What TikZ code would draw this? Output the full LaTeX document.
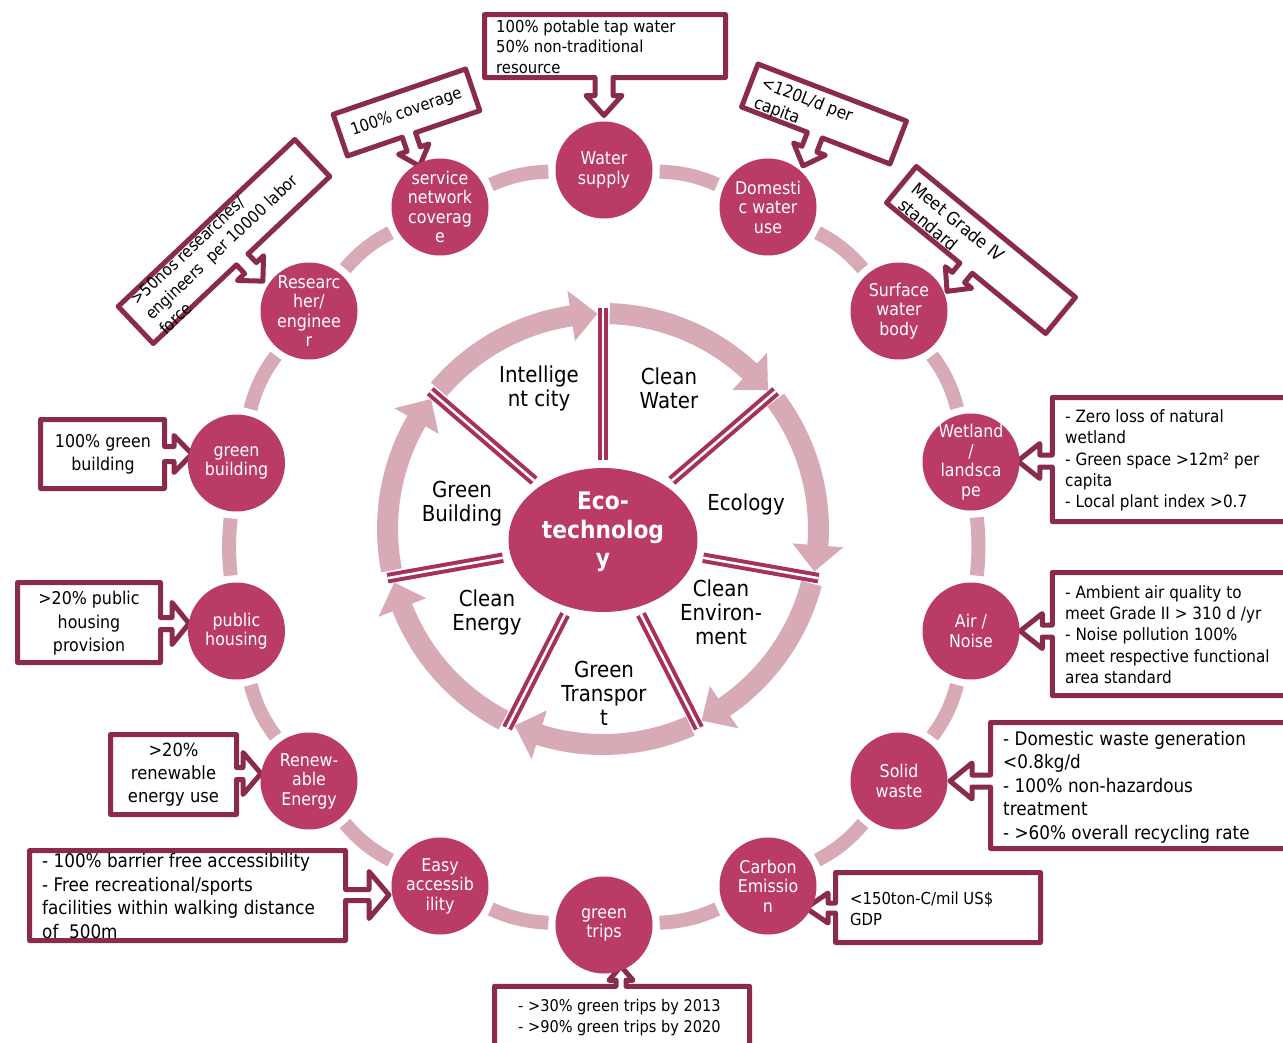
\documentclass[tikz,border=0pt]{standalone}
\usepackage{fontspec}
\setmainfont[FakeStretch=0.9,Scale=1.1]{DejaVu Sans}
\usetikzlibrary{shapes.geometric,calc}
\definecolor{ringc}{RGB}{185,59,102}
\definecolor{callc}{RGB}{138,42,78}
\definecolor{pinkc}{RGB}{216,170,182}
\definecolor{spokec}{RGB}{168,48,92}
\newcommand{\myfs}[2]{\fontsize{#1}{#2}\selectfont}
\def\csw{6}\def\chw{18}
\newcommand{\drawcallout}[8]{%
\begin{scope}[shift={(#1,#2)},rotate=#3]
\draw[callbox] ({-(#4)/2},{(#5)/2}) -- ({(#4)/2},{(#5)/2}) -- ({(#4)/2},{-(#5)/2})
 -- ({#6+\csw},{-(#5)/2}) -- ({#6+\csw},{-(#5)/2-(#7)+(#8)}) -- ({#6+\chw},{-(#5)/2-(#7)+(#8)})
 -- ({#6},{-(#5)/2-(#7)}) -- ({#6-\chw},{-(#5)/2-(#7)+(#8)}) -- ({#6-\csw},{-(#5)/2-(#7)+(#8)})
 -- ({#6-\csw},{-(#5)/2}) -- ({-(#4)/2},{-(#5)/2}) -- cycle;
\end{scope}}
\begin{document}
\begin{tikzpicture}[x=1pt,y=1pt,
 ringnode/.style={circle, fill=ringc, minimum size=97pt, inner sep=0pt},
 ringtxt/.style={text=white, align=center, inner sep=0pt, font=\myfs{16}{19.5}},
 ringline/.style={draw=pinkc, line width=14pt, shorten <=7pt, shorten >=7pt},
 callbox/.style={draw=callc, fill=white, line width=5pt, line join=round},
 ctext/.style={text=black, inner sep=0pt},
 spoke/.style={draw=spokec, line width=4pt, double=white, double distance=2.5pt, shorten <=8pt},
 wheelarr/.style={fill=pinkc},
 inlbl/.style={text=black, align=center, inner sep=0pt, font=\myfs{20}{24}},
 ecotxt/.style={text=white, align=center, inner sep=0pt, font=\bfseries\myfs{22}{28.5}}
]
\useasboundingbox (0,0) rectangle (1283,-1042);
\clip (0,0) rectangle (1283,-1042);
\fill[white] (0,0) rectangle (1283,-1042);

% ---- inner wheel ----
\coordinate (C) at (603,-529);
\foreach \k in {0,...,6}{
  \pgfmathsetmacro\angS{90-51.4286*\k-1.8}
  \pgfmathsetmacro\angE{90-51.4286*(\k+1)+1.5}
  \pgfmathsetmacro\angH{\angE+7}
  \fill[wheelarr] ($(C)+(\angS:226)$) arc[start angle=\angS, end angle=\angH, radius=226]
    -- ($(C)+(\angH:241)$) -- ($(C)+(\angE:215.5)$) -- ($(C)+(\angH:190)$)
    -- ($(C)+(\angH:205)$) arc[start angle=\angH, end angle=\angS, radius=205] -- cycle;
}
\node[ellipse, fill=ringc, minimum width=189pt, minimum height=144pt, inner sep=0pt,
      label={[ecotxt,yshift=8pt]center:Eco-\\technolog\\y}] (eco) at (603,-540) {};
\foreach \k in {0,...,6}{
  \coordinate (sp\k) at ($(C)+({90-51.4286*\k}:221)$);
  \draw[spoke] (eco) -- (sp\k);
}
\node[inlbl] (l1) at (539,-388) {Intellige\\nt city};
\node[inlbl] (l2) at (669,-388) {Clean\\Water};
\node[inlbl] (l3) at (746,-504) {Ecology};
\node[inlbl] (l4) at (721,-612) {Clean\\Environ-\\ment};
\node[inlbl] (l5) at (604,-693) {Green\\Transpor\\t};
\node[inlbl] (l6) at (487,-612) {Clean\\Energy};
\node[inlbl] (l7) at (462,-504) {Green\\Building};

% ---- callouts ----
\def\csw{9}\def\chw{18}
\drawcallout{605}{-46}{0}{241}{63}{-1}{38}{20}
\def\csw{7}\def\chw{16}
\drawcallout{406.5}{-112.5}{18.9}{140}{44}{-5}{33}{18}
\def\csw{8}\def\chw{18}
\drawcallout{224}{-241.5}{43.4}{243}{51}{1}{30}{18}
\def\csw{8}\def\chw{17}
\drawcallout{824}{-114}{-21}{159}{46}{-1}{33}{18}
\drawcallout{981}{-250}{-39.4}{206}{47}{0}{30}{18}
\def\csw{6}\def\chw{17.5}
\drawcallout{1176}{-459.5}{-90}{124}{247.5}{1.5}{34.5}{22}
\drawcallout{1176}{-634}{-90}{123}{247.5}{-3}{32}{22}
\def\csw{6}\def\chw{18}
\drawcallout{1145.25}{-785.5}{-90}{126}{309.5}{-4.5}{40.5}{22}
\def\csw{5}\def\chw{15}
\drawcallout{938}{-907.5}{-90}{70}{205}{0.5}{29.5}{22}
\def\csw{5}\def\chw{12}
\drawcallout{622}{-1023}{180}{255}{73.5}{1}{20}{14}
\def\csw{5.5}\def\chw{23.5}
\drawcallout{187.5}{-895.5}{90}{90}{316}{0.5}{43.5}{20}
\def\csw{6}\def\chw{21}
\drawcallout{173.5}{-774.5}{90}{80}{126}{1}{24.5}{18}
\drawcallout{89}{-622.5}{90}{80}{143}{-1}{28.5}{17}
\def\csw{7.5}\def\chw{18.5}
\drawcallout{102.5}{-454}{90}{69}{124}{0}{27.5}{18}

% callout texts
\node[ctext, anchor=west, align=left, font=\myfs{15}{20.5}] (tTop) at (496,-46.5) {100\% potable tap water\\50\% non-traditional\\resource};
\node[ctext, rotate=18.9, font=\myfs{15}{20}] (tCov) at (406.5,-112.5) {100\% coverage};
\begin{scope}[shift={(224,-241.5)},rotate=43.4]
\node[ctext, transform shape, anchor=west, align=left, font=\myfs{15}{20.5}] (tRes) at (-107,-2) {>50nos researches/\\engineers\ \ per 10000 labor\\force};
\end{scope}
\begin{scope}[shift={(824,-114)},rotate=-21]
\node[ctext, transform shape, anchor=west, align=left, font=\myfs{15.5}{21}] (tDom) at (-69,-4) {<120L/d per\\capita};
\end{scope}
\begin{scope}[shift={(981,-250)},rotate=-39.4]
\node[ctext, transform shape, anchor=west, align=left, font=\myfs{16}{21}] (tSurf) at (-92,-3) {Meet Grade IV\\standard};
\end{scope}
\node[ctext, anchor=west, align=left, font=\myfs{15.4}{21.2}] (tWet) at (1065,-460.5) {- Zero loss of natural\\wetland\\- Green space >12m² per\\capita\\- Local plant index >0.7};
\node[ctext, anchor=west, align=left, font=\myfs{15.4}{21.2}] (tAir) at (1065,-634.5) {- Ambient air quality to\\meet Grade II > 310 d /yr\\- Noise pollution 100\%\\meet respective functional\\area standard};
\node[ctext, anchor=west, align=left, font=\myfs{17}{23.5}] (tSol) at (1003,-787) {- Domestic waste generation\\<0.8kg/d\\- 100\% non-hazardous\\treatment\\- >60\% overall recycling rate};
\node[ctext, anchor=west, align=left, font=\myfs{15}{21}] (tCar) at (850,-908.5) {<150ton-C/mil US\$\\GDP};
\node[ctext, anchor=west, align=left, font=\myfs{14.7}{21}] (tTrip) at (518,-1017.5) {- >30\% green trips by 2013\\- >90\% green trips by 2020};
\node[ctext, anchor=west, align=left, font=\myfs{17}{23.4}] (tEasy) at (42,-896) {- 100\% barrier free accessibility\\- Free recreational/sports\\facilities within walking distance\\of\ \ 500m};
\node[ctext, align=center, font=\myfs{16.5}{23}] (tRen) at (173.5,-775) {>20\%\\renewable\\energy use};
\node[ctext, align=center, font=\myfs{16}{23.5}] (tPub) at (89,-623.5) {>20\% public\\housing\\provision};
\node[ctext, align=center, font=\myfs{16}{23}] (tGB) at (103,-454.5) {100\% green\\building};

% ---- outer ring ----
\node[ringnode,label={[ringtxt]center:Water\\supply}] (c0) at (604,-170) {};
\node[ringnode,label={[ringtxt]center:Domesti\\c water\\use}] (c1) at (768,-207) {};
\node[ringnode,label={[ringtxt]center:Surface\\water\\body}] (c2) at (899,-311) {};
\node[ringnode,label={[ringtxt]center:Wetland\\/\\landsca\\pe}] (c3) at (971,-462) {};
\node[ringnode,label={[ringtxt]center:Air /\\Noise}] (c4) at (971,-631) {};
\node[ringnode,label={[ringtxt]center:Solid\\waste}] (c5) at (899,-781) {};
\node[ringnode,label={[ringtxt]center:Carbon\\Emissio\\n}] (c6) at (768,-886) {};
\node[ringnode,label={[ringtxt]center:green\\trips}] (c7) at (604,-925) {};
\node[ringnode,label={[ringtxt]center:Easy\\accessib\\ility}] (c8) at (440,-886) {};
\node[ringnode,label={[ringtxt]center:Renew-\\able\\Energy}] (c9) at (309,-781) {};
\node[ringnode,label={[ringtxt]center:public\\housing}] (c10) at (236.5,-631) {};
\node[ringnode,label={[ringtxt]center:green\\building}] (c11) at (236.5,-463) {};
\node[ringnode,label={[ringtxt]center:Researc\\her/\\enginee\\r}] (c12) at (309,-311) {};
\node[ringnode,label={[ringtxt]center:service\\network\\coverag\\e}] (c13) at (440,-207) {};
\foreach \i/\j/\b in {0/1/11,1/2/11,2/3/11,3/4/6,4/5/11,5/6/11,6/7/11,7/8/11,8/9/11,9/10/11,10/11/6,11/12/11,12/13/11,13/0/11}{
  \draw[ringline] (c\i) to[bend left=\b] (c\j);
}
\end{tikzpicture}
\end{document}
